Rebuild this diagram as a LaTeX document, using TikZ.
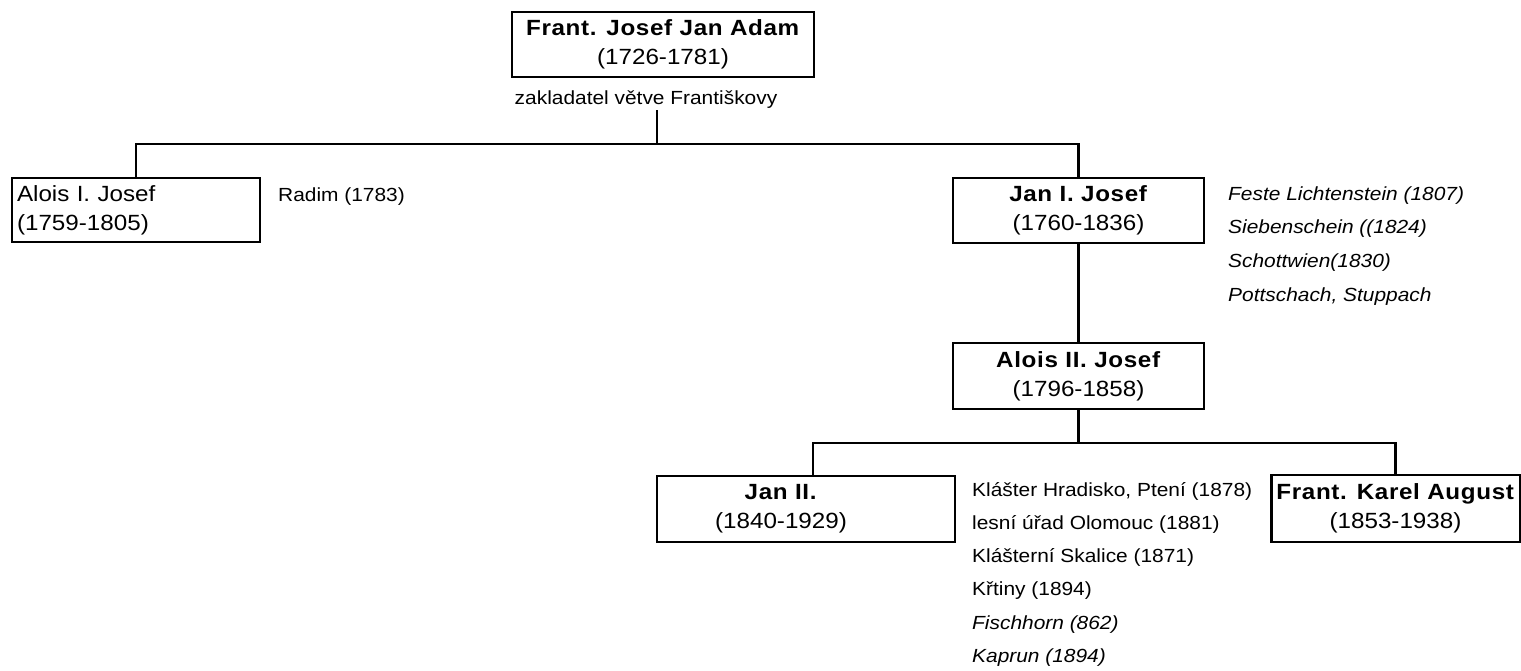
\documentclass[tikz,border=0pt]{standalone}
\usepackage{fontspec}
\setmainfont{Liberation Sans}[FakeStretch=1.1, BoldFeatures={LetterSpace=3}]
\newcommand{\boxfont}{\fontsize{22}{29}\selectfont}
\newcommand{\notefont}{\fontsize{19}{24}\selectfont}
\tikzset{
  box/.style={draw, line width=2.2pt, inner sep=5pt, align=center, font=\boxfont},
  note/.style={inner sep=0pt, anchor=west, font=\notefont},
  link/.style={line width=2.2pt}
}
\begin{document}
\begin{tikzpicture}[x=1pt, y=-1pt]
  \useasboundingbox (0,0) rectangle (1521,671);

  % Frant. Josef Jan Adam
  \node[box, minimum width=302pt, minimum height=65pt] (adam) at (663,44.5) {\textbf{Frant. Josef Jan Adam}\\(1726-1781)};
  \node[font=\notefont, inner sep=1pt] (zaklad) at (646,100) {zakladatel větve Františkovy};
  \coordinate (fork1) at (657,144);

  % Alois I. Josef
  \node[box, align=left, text width=238pt, minimum height=64pt] (alois1) at (136,210) {Alois I. Josef\\(1759-1805)};
  \node[note] (radim) at (278,197) {Radim (1783)};

  % Jan I. Josef
  \node[box, minimum width=251pt, minimum height=65pt] (jan1) at (1078.5,210.5) {\textbf{Jan I. Josef}\\(1760-1836)};
  \foreach \t [count=\i] in {Feste Lichtenstein (1807), Siebenschein ((1824), Schottwien(1830), {Pottschach, Stuppach}}
    \node[note, font=\notefont\itshape] (jan1n\i) at (1228,161.5+33.7*\i) {\t};

  % Alois II. Josef
  \node[box, minimum width=251pt, minimum height=66pt] (alois2) at (1078.5,376) {\textbf{Alois II. Josef}\\(1796-1858)};
  \coordinate (fork2) at (1078.5,443);

  % Jan II.
  \node[box, minimum width=298pt, minimum height=66pt] (jan2) at (806,509) {};
  \node[font=\boxfont, align=center] (jan2t) at (781,509) {\textbf{Jan II.}\\(1840-1929)};
  \foreach \t [count=\i] in {{Klášter Hradisko, Ptení (1878)}, lesní úřad Olomouc (1881), Klášterní Skalice (1871), Křtiny (1894), \textit{Fischhorn (862)}, \textit{Kaprun (1894)}}
    \node[note] (jan2n\i) at (972,457.7+33.3*\i) {\t};

  % Frant. Karel August
  \node[box, minimum width=247pt, minimum height=67pt] (karel) at (1395.5,508.5) {\textbf{Frant. Karel August}\\(1853-1938)};

  % lines
  \draw[link] (zaklad.south -| fork1) -- (fork1);
  \draw[link] (alois1.north) |- (fork1) -| (jan1.north);
  \draw[link] (jan1.south) -- (alois2.north);
  \draw[link] (alois2.south) -- (fork2);
  \draw[link] ([xshift=7pt]jan2.north) |- (fork2) -| (karel.north);
\end{tikzpicture}
\end{document}
